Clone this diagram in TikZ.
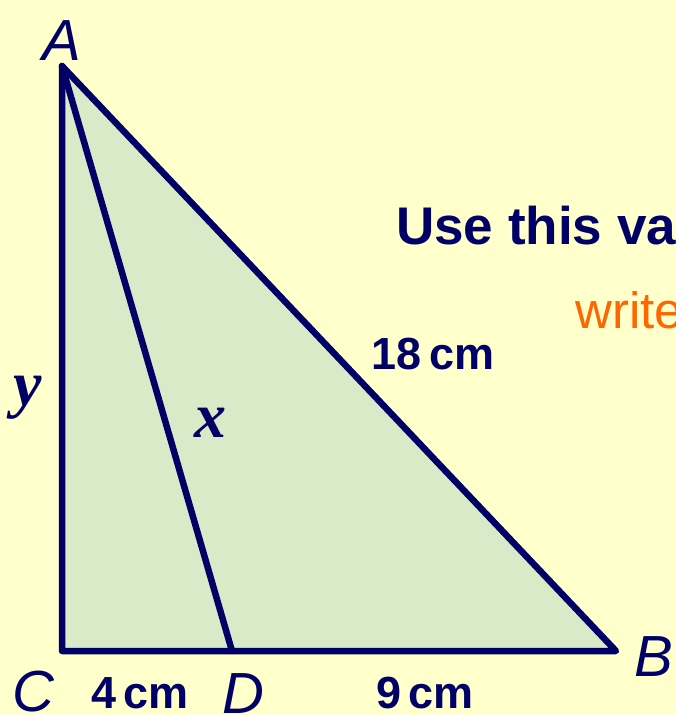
\documentclass[tikz,border=0pt]{standalone}
\usepackage{fontspec}
\setmainfont{Liberation Sans}
\newfontfamily\timesbi{Liberation Serif}[BoldItalicFont=* Bold Italic]
\definecolor{bgyellow}{HTML}{FFFFCC}
\definecolor{trigreen}{HTML}{D9EAC8}
\definecolor{navy}{HTML}{000066}
\definecolor{orng}{HTML}{FF6600}
\begin{document}
\begin{tikzpicture}[x=1pt,y=-1pt,
  edge/.style={draw=navy,line width=6.5pt,line join=round,line cap=round},
  vlabel/.style={text=navy,inner sep=0pt,font=\fontsize{58}{60}\selectfont\itshape},
  mlabel/.style={text=navy,inner sep=0pt,font=\fontsize{45}{50}\selectfont\bfseries},
  varlabel/.style={text=navy,inner sep=0pt,font=\fontsize{64}{66}\selectfont\timesbi\bfseries\itshape},
]
\useasboundingbox (0,0) rectangle (675,715);
\clip (0,0) rectangle (675,715);
\fill[bgyellow] (0,0) rectangle (675,715);
\coordinate (A) at (62,66);
\coordinate (C) at (62,651);
\coordinate (D) at (232,651);
\coordinate (B) at (616,651);
\fill[trigreen] (A) -- (B) -- (C) -- cycle;
\draw[edge] (A) -- (B) -- (C) -- cycle;
\draw[edge] (A) -- (D);
\node[vlabel,anchor=base] (lA) at (62,60) {A};
\node[vlabel,anchor=base] (lC) at (33,711) {C};
\node[vlabel,anchor=base] (lD) at (243,713) {D};
\node[vlabel,anchor=base] (lB) at (654,676) {B};
\node[mlabel,anchor=base] (l4) at (140,708) {4\,cm};
\node[mlabel,anchor=base] (l9) at (425,708) {9\,cm};
\node[mlabel,anchor=base] (l18) at (433,369) {18\,cm};
\node[varlabel,anchor=base] (ly) at (28,405) {y};
\node[varlabel,anchor=base] (lx) at (210,437) {x};
\node[text=navy,inner sep=0pt,anchor=base west,font=\fontsize{53}{56}\selectfont\bfseries] (use) at (396,244) {Use this va};
\node[text=orng,inner sep=0pt,anchor=base west,font=\fontsize{51}{53}\selectfont] (wr) at (575,328) {write};
\end{tikzpicture}
\end{document}
